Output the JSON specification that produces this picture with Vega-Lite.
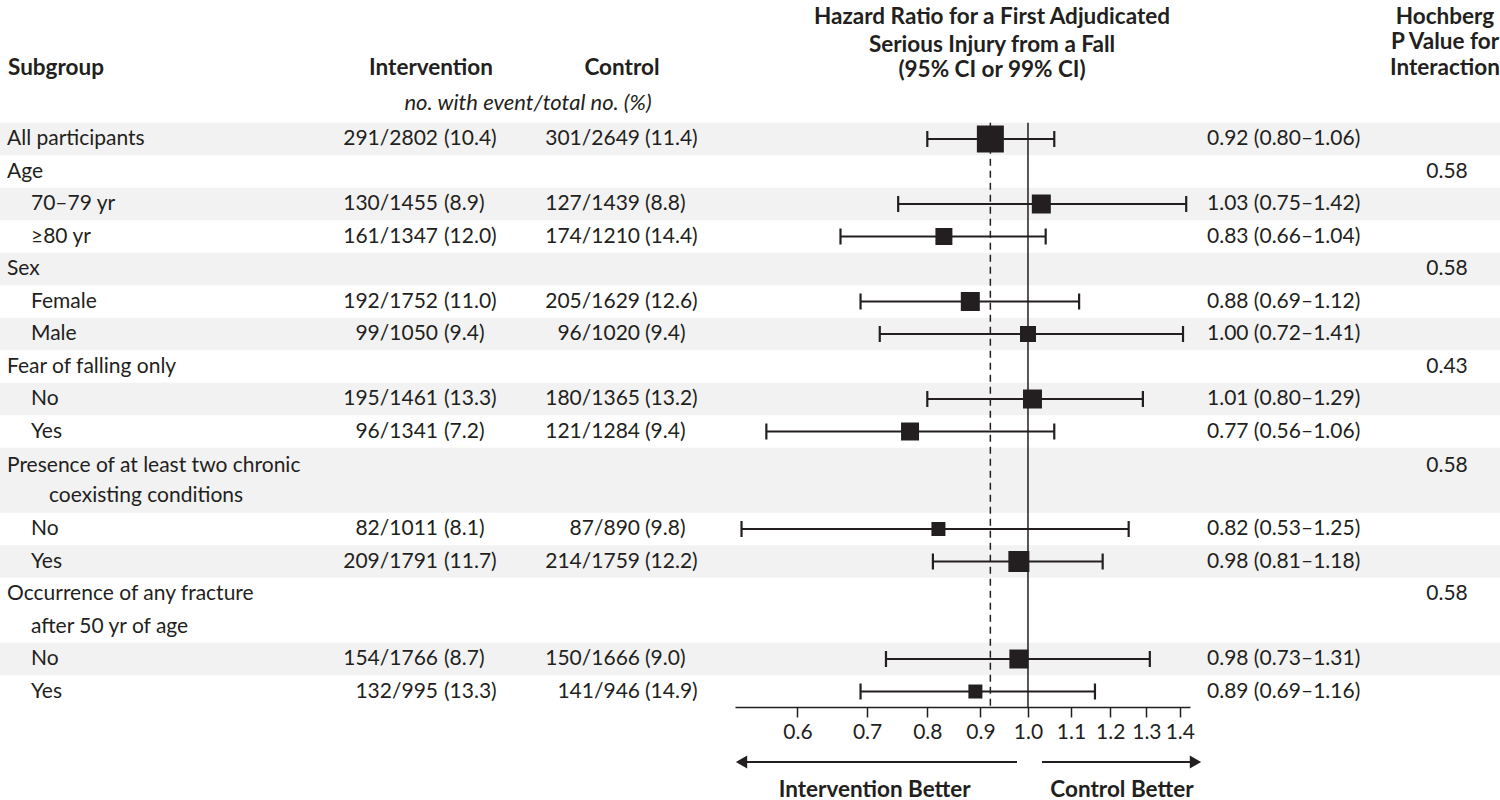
{
  "$schema": "https://vega.github.io/schema/vega-lite/v6.json",
  "padding": 0,
  "bounds": "flush",
  "spacing": 0,
  "background": "white",
  "config": {
    "view": {"stroke": null},
    "text": {"font": "Lato", "fontSize": 21, "color": "#231f20", "baseline": "middle"}
  },
  "datasets": {
    "bands": [
      {"top": -0.5, "bottom": 0.5},
      {"top": 1.5, "bottom": 2.5},
      {"top": 3.5, "bottom": 4.5},
      {"top": 5.5, "bottom": 6.5},
      {"top": 7.5, "bottom": 8.5},
      {"top": 9.5, "bottom": 11.5},
      {"top": 12.5, "bottom": 13.5},
      {"top": 15.5, "bottom": 16.5}
    ],
    "refs": [
      {"name": "no effect", "hr": 1.0, "top": -0.5, "bottom": 17.48},
      {"name": "overall", "hr": 0.92, "top": -0.5, "bottom": 17.48}
    ],
    "headers": [
      {"col": "subgroup", "text": "Subgroup", "row": -2.185},
      {"col": "int", "text": "Intervention", "row": -2.185},
      {"col": "ctl", "text": "Control", "row": -2.185},
      {"col": "unit", "text": "no. with event/total no. (%)", "row": -1.108},
      {"col": "hazard", "text": "Hazard Ratio for a First Adjudicated", "row": -3.754},
      {"col": "hazard", "text": "Serious Injury from a Fall", "row": -2.892},
      {"col": "hazard", "text": "(95% CI or 99% CI)", "row": -2.123},
      {"col": "pval", "text": "Hochberg", "row": -3.754},
      {"col": "pval", "text": "P Value for", "row": -2.985},
      {"col": "pval", "text": "Interaction", "row": -2.185}
    ],
    "arrows": [
      {"side": "Intervention Better", "from": 0.535, "to": 0.976, "tip": 0.530, "label_at": 0.712, "arrow_row": 19.17, "label_row": 20.03},
      {"side": "Control Better", "from": 1.0315, "to": 1.445, "tip": 1.4495, "label_at": 1.2316, "arrow_row": 19.17, "label_row": 20.03}
    ],
    "rows": [
      {"row": 0, "label": "All participants", "level": "group", "int_n": "291/2802", "int_p": "(10.4)", "ctl_n": "301/2649", "ctl_p": "(11.4)", "hr": 0.92, "lo": 0.80, "hi": 1.06, "hr_ci": "0.92 (0.80–1.06)", "weight": 100},
      {"row": 1, "label": "Age", "level": "group", "p": "0.58"},
      {"row": 2, "label": "70–79 yr", "level": "sub", "int_n": "130/1455", "int_p": "(8.9)", "ctl_n": "127/1439", "ctl_p": "(8.8)", "hr": 1.03, "lo": 0.75, "hi": 1.42, "hr_ci": "1.03 (0.75–1.42)", "weight": 49.5},
      {"row": 3, "label": "≥80 yr", "level": "sub", "int_n": "161/1347", "int_p": "(12.0)", "ctl_n": "174/1210", "ctl_p": "(14.4)", "hr": 0.83, "lo": 0.66, "hi": 1.04, "hr_ci": "0.83 (0.66–1.04)", "weight": 39.6},
      {"row": 4, "label": "Sex", "level": "group", "p": "0.58"},
      {"row": 5, "label": "Female", "level": "sub", "int_n": "192/1752", "int_p": "(11.0)", "ctl_n": "205/1629", "ctl_p": "(12.6)", "hr": 0.88, "lo": 0.69, "hi": 1.12, "hr_ci": "0.88 (0.69–1.12)", "weight": 49.5},
      {"row": 6, "label": "Male", "level": "sub", "int_n": "99/1050", "int_p": "(9.4)", "ctl_n": "96/1020", "ctl_p": "(9.4)", "hr": 1.00, "lo": 0.72, "hi": 1.41, "hr_ci": "1.00 (0.72–1.41)", "weight": 35.1},
      {"row": 7, "label": "Fear of falling only", "level": "group", "p": "0.43"},
      {"row": 8, "label": "No", "level": "sub", "int_n": "195/1461", "int_p": "(13.3)", "ctl_n": "180/1365", "ctl_p": "(13.2)", "hr": 1.01, "lo": 0.80, "hi": 1.29, "hr_ci": "1.01 (0.80–1.29)", "weight": 49.5},
      {"row": 9, "label": "Yes", "level": "sub", "int_n": "96/1341", "int_p": "(7.2)", "ctl_n": "121/1284", "ctl_p": "(9.4)", "hr": 0.77, "lo": 0.56, "hi": 1.06, "hr_ci": "0.77 (0.56–1.06)", "weight": 44.4},
      {"row": 10.05, "label": "Presence of at least two chronic", "level": "group", "p": "0.58"},
      {"row": 10.97, "label": "coexisting conditions", "level": "cont"},
      {"row": 12, "label": "No", "level": "sub", "int_n": "82/1011", "int_p": "(8.1)", "ctl_n": "87/890", "ctl_p": "(9.8)", "hr": 0.82, "lo": 0.53, "hi": 1.25, "hr_ci": "0.82 (0.53–1.25)", "weight": 26.9},
      {"row": 13, "label": "Yes", "level": "sub", "int_n": "209/1791", "int_p": "(11.7)", "ctl_n": "214/1759", "ctl_p": "(12.2)", "hr": 0.98, "lo": 0.81, "hi": 1.18, "hr_ci": "0.98 (0.81–1.18)", "weight": 60.5},
      {"row": 14, "label": "Occurrence of any fracture", "level": "group", "p": "0.58"},
      {"row": 15, "label": "after 50 yr of age", "level": "sub"},
      {"row": 16, "label": "No", "level": "sub", "int_n": "154/1766", "int_p": "(8.7)", "ctl_n": "150/1666", "ctl_p": "(9.0)", "hr": 0.98, "lo": 0.73, "hi": 1.31, "hr_ci": "0.98 (0.73–1.31)", "weight": 49.5},
      {"row": 17, "label": "Yes", "level": "sub", "int_n": "132/995", "int_p": "(13.3)", "ctl_n": "141/946", "ctl_p": "(14.9)", "hr": 0.89, "lo": 0.69, "hi": 1.16, "hr_ci": "0.89 (0.69–1.16)", "weight": 26.9}
    ]
  },
  "hconcat": [
    {
      "width": 342, "height": 800,
      "layer": [
        {"data": {"name": "bands"}, "mark": {"type": "rect", "color": "#f2f2f2"},
         "encoding": {"y": {"field": "top", "type": "quantitative", "scale": {"domain": [-4.277, 20.338], "reverse": true, "nice": false, "zero": false}, "axis": null}, "y2": {"field": "bottom"}}},
        {"data": {"name": "headers"}, "transform": [{"filter": "datum.col === 'subgroup'"}],
         "mark": {"type": "text", "align": "left", "dx": -163, "fontWeight": "bold", "fontSize": 22.5},
         "encoding": {"y": {"field": "row", "type": "quantitative"}, "text": {"field": "text"}}},
        {"data": {"name": "rows"}, "transform": [{"filter": "datum.level === 'group'"}],
         "mark": {"type": "text", "align": "left", "dx": -164},
         "encoding": {"y": {"field": "row", "type": "quantitative"}, "text": {"field": "label"}}},
        {"data": {"name": "rows"}, "transform": [{"filter": "datum.level === 'sub'"}],
         "mark": {"type": "text", "align": "left", "dx": -140},
         "encoding": {"y": {"field": "row", "type": "quantitative"}, "text": {"field": "label"}}},
        {"data": {"name": "rows"}, "transform": [{"filter": "datum.level === 'cont'"}],
         "mark": {"type": "text", "align": "left", "dx": -122},
         "encoding": {"y": {"field": "row", "type": "quantitative"}, "text": {"field": "label"}}}
      ]
    },
    {
      "width": 198, "height": 800,
      "layer": [
        {"data": {"name": "bands"}, "mark": {"type": "rect", "color": "#f2f2f2"},
         "encoding": {"y": {"field": "top", "type": "quantitative", "scale": {"domain": [-4.277, 20.338], "reverse": true, "nice": false, "zero": false}, "axis": null}, "y2": {"field": "bottom"}}},
        {"data": {"name": "headers"}, "transform": [{"filter": "datum.col === 'int'"}],
         "mark": {"type": "text", "align": "center", "dx": -10, "fontWeight": "bold", "fontSize": 22.5},
         "encoding": {"y": {"field": "row", "type": "quantitative"}, "text": {"field": "text"}}},
        {"data": {"name": "headers"}, "transform": [{"filter": "datum.col === 'unit'"}],
         "mark": {"type": "text", "align": "center", "dx": 87, "fontStyle": "italic", "fontSize": 22},
         "encoding": {"y": {"field": "row", "type": "quantitative"}, "text": {"field": "text"}}},
        {"data": {"name": "rows"}, "transform": [{"filter": "isValid(datum.int_n)"}],
         "mark": {"type": "text", "align": "right", "dx": -3},
         "encoding": {"y": {"field": "row", "type": "quantitative"}, "text": {"field": "int_n"}}},
        {"data": {"name": "rows"}, "transform": [{"filter": "isValid(datum.int_p)"}],
         "mark": {"type": "text", "align": "left", "dx": 3},
         "encoding": {"y": {"field": "row", "type": "quantitative"}, "text": {"field": "int_p"}}}
      ]
    },
    {
      "width": 195, "height": 800,
      "layer": [
        {"data": {"name": "bands"}, "mark": {"type": "rect", "color": "#f2f2f2"},
         "encoding": {"y": {"field": "top", "type": "quantitative", "scale": {"domain": [-4.277, 20.338], "reverse": true, "nice": false, "zero": false}, "axis": null}, "y2": {"field": "bottom"}}},
        {"data": {"name": "headers"}, "transform": [{"filter": "datum.col === 'ctl'"}],
         "mark": {"type": "text", "align": "center", "dx": -15.5, "fontWeight": "bold", "fontSize": 22.5},
         "encoding": {"y": {"field": "row", "type": "quantitative"}, "text": {"field": "text"}}},
        {"data": {"name": "rows"}, "transform": [{"filter": "isValid(datum.ctl_n)"}],
         "mark": {"type": "text", "align": "right", "dx": 2.5},
         "encoding": {"y": {"field": "row", "type": "quantitative"}, "text": {"field": "ctl_n"}}},
        {"data": {"name": "rows"}, "transform": [{"filter": "isValid(datum.ctl_p)"}],
         "mark": {"type": "text", "align": "left", "dx": 7.5},
         "encoding": {"y": {"field": "row", "type": "quantitative"}, "text": {"field": "ctl_p"}}}
      ]
    },
    {
      "width": 455, "height": 800,
      "layer": [
        {"data": {"name": "bands"}, "mark": {"type": "rect", "color": "#f2f2f2"},
         "encoding": {"y": {"field": "top", "type": "quantitative", "scale": {"domain": [-4.277, 20.338], "reverse": true, "nice": false, "zero": false}, "axis": null}, "y2": {"field": "bottom"}}},
        {"data": {"name": "rows"}, "transform": [{"filter": "isValid(datum.hr)"}],
         "mark": {"type": "rule", "color": "#231f20", "strokeWidth": 2.2},
         "encoding": {
           "x": {"field": "lo", "type": "quantitative", "scale": {"type": "log", "domain": [0.5224, 1.432], "nice": false},
                 "axis": {"orient": "bottom", "offset": -93, "values": [0.6, 0.7, 0.8, 0.9, 1.0, 1.1, 1.2, 1.3, 1.4], "format": ".1f", "title": null, "grid": false, "tickSize": 10, "tickWidth": 1.5, "tickColor": "#231f20", "domainColor": "#231f20", "domainWidth": 1.5, "labelFont": "Lato", "labelFontSize": 21, "labelColor": "#231f20", "labelPadding": 4, "labelFlush": false, "labelOverlap": false}},
           "x2": {"field": "hi"},
           "y": {"field": "row", "type": "quantitative"}}},
        {"data": {"name": "rows"}, "transform": [{"filter": "isValid(datum.hr)"}],
         "mark": {"type": "tick", "orient": "vertical", "color": "#231f20", "thickness": 2.2, "size": 16, "opacity": 1},
         "encoding": {"x": {"field": "lo", "type": "quantitative"}, "y": {"field": "row", "type": "quantitative"}}},
        {"data": {"name": "rows"}, "transform": [{"filter": "isValid(datum.hr)"}],
         "mark": {"type": "tick", "orient": "vertical", "color": "#231f20", "thickness": 2.2, "size": 16, "opacity": 1},
         "encoding": {"x": {"field": "hi", "type": "quantitative"}, "y": {"field": "row", "type": "quantitative"}}},
        {"data": {"name": "refs"}, "transform": [{"filter": "datum.name === 'no effect'"}],
         "mark": {"type": "rule", "color": "#231f20", "strokeWidth": 1.5},
         "encoding": {"x": {"field": "hr", "type": "quantitative"}, "y": {"field": "top", "type": "quantitative"}, "y2": {"field": "bottom"}}},
        {"data": {"name": "refs"}, "transform": [{"filter": "datum.name === 'overall'"}],
         "mark": {"type": "rule", "color": "#231f20", "strokeWidth": 1.5, "strokeDash": [7, 5]},
         "encoding": {"x": {"field": "hr", "type": "quantitative"}, "y": {"field": "top", "type": "quantitative"}, "y2": {"field": "bottom"}}},
        {"data": {"name": "rows"}, "transform": [{"filter": "isValid(datum.hr)"}],
         "mark": {"type": "point", "shape": "square", "filled": true, "opacity": 1, "color": "#231f20", "strokeWidth": 0},
         "encoding": {"x": {"field": "hr", "type": "quantitative"},
           "y": {"field": "row", "type": "quantitative"},
           "size": {"field": "weight", "type": "quantitative", "scale": {"domain": [0, 100], "range": [0, 729]}, "legend": null}}},
        {"data": {"name": "arrows"},
         "mark": {"type": "rule", "color": "#231f20", "strokeWidth": 2},
         "encoding": {"x": {"field": "from", "type": "quantitative"}, "x2": {"field": "to"}, "y": {"field": "arrow_row", "type": "quantitative"}}},
        {"data": {"name": "arrows"},
         "mark": {"type": "point", "filled": true, "opacity": 1, "color": "#231f20", "size": 170, "strokeWidth": 0},
         "encoding": {"x": {"field": "tip", "type": "quantitative"}, "y": {"field": "arrow_row", "type": "quantitative"},
           "shape": {"field": "side", "type": "nominal", "scale": {"domain": ["Intervention Better", "Control Better"], "range": ["triangle-left", "triangle-right"]}, "legend": null}}},
        {"data": {"name": "arrows"},
         "mark": {"type": "text", "align": "center", "fontWeight": "bold", "fontSize": 22.5},
         "encoding": {"x": {"field": "label_at", "type": "quantitative"}, "y": {"field": "label_row", "type": "quantitative"}, "text": {"field": "side"}}},
        {"data": {"name": "headers"}, "transform": [{"filter": "datum.col === 'hazard'"}],
         "mark": {"type": "text", "align": "center", "dx": 29.5, "fontWeight": "bold", "fontSize": 22.5},
         "encoding": {"y": {"field": "row", "type": "quantitative"}, "text": {"field": "text"}}}
      ]
    },
    {
      "width": 180, "height": 800,
      "layer": [
        {"data": {"name": "bands"}, "mark": {"type": "rect", "color": "#f2f2f2"},
         "encoding": {"y": {"field": "top", "type": "quantitative", "scale": {"domain": [-4.277, 20.338], "reverse": true, "nice": false, "zero": false}, "axis": null}, "y2": {"field": "bottom"}}},
        {"data": {"name": "rows"}, "transform": [{"filter": "isValid(datum.hr_ci)"}],
         "mark": {"type": "text", "align": "left", "dx": -73},
         "encoding": {"y": {"field": "row", "type": "quantitative"}, "text": {"field": "hr_ci"}}}
      ]
    },
    {
      "width": 130, "height": 800,
      "layer": [
        {"data": {"name": "bands"}, "mark": {"type": "rect", "color": "#f2f2f2"},
         "encoding": {"y": {"field": "top", "type": "quantitative", "scale": {"domain": [-4.277, 20.338], "reverse": true, "nice": false, "zero": false}, "axis": null}, "y2": {"field": "bottom"}}},
        {"data": {"name": "headers"}, "transform": [{"filter": "datum.col === 'pval'"}],
         "mark": {"type": "text", "align": "center", "dx": 10, "fontWeight": "bold", "fontSize": 22.5},
         "encoding": {"y": {"field": "row", "type": "quantitative"}, "text": {"field": "text"}}},
        {"data": {"name": "rows"}, "transform": [{"filter": "isValid(datum.p)"}],
         "mark": {"type": "text", "align": "center", "dx": 12},
         "encoding": {"y": {"field": "row", "type": "quantitative"}, "text": {"field": "p"}}}
      ]
    }
  ]
}
